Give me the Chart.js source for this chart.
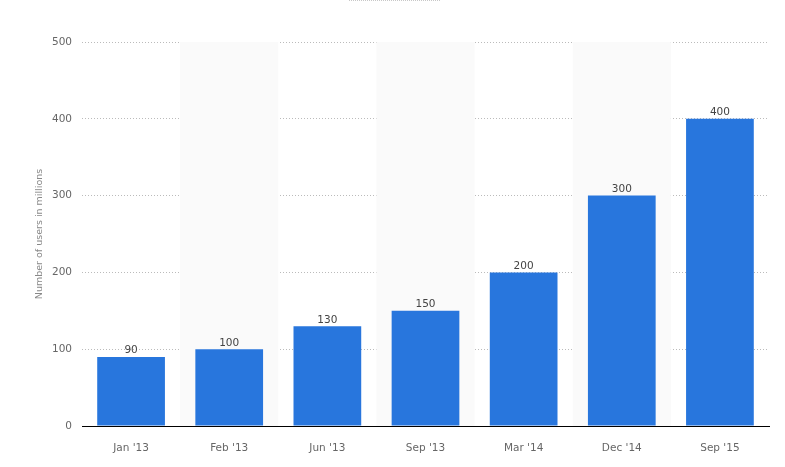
<!DOCTYPE html>
<html>
<head>
<meta charset="utf-8">
<script src="https://cdn.jsdelivr.net/npm/chart.js@4"></script>
<style>
  html, body { margin: 0; padding: 0; background: #fff; }
  #wrap { width: 785px; height: 467px; }
</style>
</head>
<body>
<div id="wrap"><canvas id="usersChart" width="785" height="467"></canvas></div>
<script>
// chart data
const categories = ["Jan '13", "Feb '13", "Jun '13", "Sep '13", "Mar '14", "Dec '14", "Sep '15"];
const users = [90, 100, 130, 150, 200, 300, 400];
const yTicks = [0, 100, 200, 300, 400, 500];

const FONT = "'DejaVu Sans', sans-serif";

// light grey band behind every other category
const bandPlugin = {
  id: 'bands',
  beforeDatasetsDraw(chart) {
    const { ctx, chartArea, scales } = chart;
    const step = scales.x.width / categories.length;
    ctx.save();
    ctx.fillStyle = '#fafafa';
    categories.forEach((c, i) => {
      if (i % 2 === 1) {
        const cx = scales.x.getPixelForValue(i);
        ctx.fillRect(cx - step / 2, chartArea.top, step, chartArea.bottom - chartArea.top);
      }
    });
    // small dotted stub at the top (empty legend area)
    ctx.strokeStyle = '#c8c8c8';
    ctx.setLineDash([1, 1]);
    ctx.beginPath();
    ctx.moveTo(349, 0.5);
    ctx.lineTo(441, 0.5);
    ctx.stroke();
    ctx.restore();
  }
};

// value labels above the bars
const valueLabels = {
  id: 'valueLabels',
  afterDatasetsDraw(chart) {
    const { ctx } = chart;
    const meta = chart.getDatasetMeta(0);
    ctx.save();
    ctx.font = '10.5px ' + FONT;
    ctx.fillStyle = '#444';
    ctx.textAlign = 'center';
    ctx.textBaseline = 'bottom';
    meta.data.forEach((bar, i) => {
      ctx.fillText(users[i], bar.x, bar.y - 1);
    });
    ctx.restore();
  }
};

const ctx = document.getElementById('usersChart').getContext('2d');
new Chart(ctx, {
  type: 'bar',
  data: {
    labels: categories,
    datasets: [{
      label: 'Users',
      data: users,
      backgroundColor: '#2876dd',
      borderColor: '#2876dd',
      borderWidth: 0,
      inflateAmount: 0,
      categoryPercentage: 1,
      barPercentage: 0.69
    }]
  },
  options: {
    responsive: false,
    animation: false,
    layout: { padding: { left: 29, right: 16, top: 42, bottom: 0 } },
    plugins: {
      legend: { display: false },
      tooltip: { enabled: false }
    },
    scales: {
      x: {
        grid: { display: false },
        border: { display: true, color: '#000', width: 1 },
        ticks: { color: '#666', font: { family: FONT, size: 10.5 }, padding: 8 },
        afterFit(scale) { scale.height = 41; }
      },
      y: {
        min: 0,
        max: 500,
        afterBuildTicks(scale) { scale.ticks = yTicks.map(v => ({ value: v })); },
        grid: {
          drawTicks: false,
          color: c => c.tick && c.tick.value === 0 ? 'rgba(0,0,0,0)' : '#bbb',
          lineWidth: 1
        },
        border: { display: false, dash: [1, 2] },
        ticks: { color: '#666', font: { family: FONT, size: 10.5 }, padding: 10 },
        title: {
          display: true,
          text: 'Number of users in millions',
          color: '#888',
          font: { family: FONT, size: 9.5 },
          padding: { top: 5, bottom: 0 }
        },
        afterFit(scale) { scale.width = 53; }
      }
    }
  },
  plugins: [bandPlugin, valueLabels]
});
</script>
</body>
</html>
